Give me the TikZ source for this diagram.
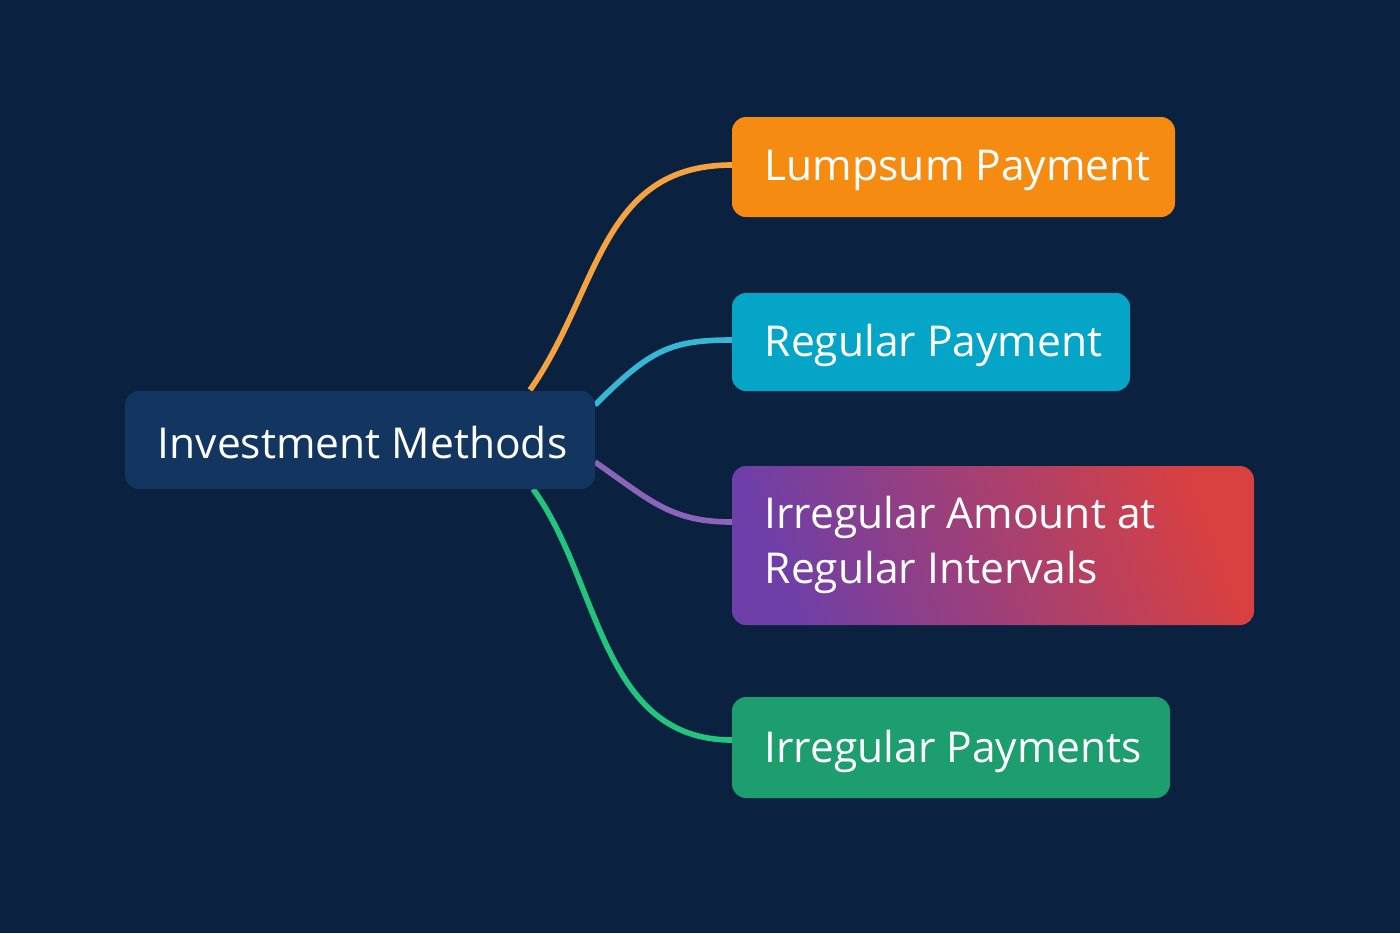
\documentclass[tikz,border=0pt]{standalone}
\usepackage{fontspec}
\setmainfont{Open Sans}
\begin{document}
\begin{tikzpicture}[x=0.01cm,y=-0.01cm,
  box/.style={rounded corners=0.14cm},
  lbl/.style={text=white,font=\fontsize{12.1}{15.6}\selectfont,align=left,anchor=west,inner sep=0},
  con/.style={line width=1.6pt}]
\definecolor{bg}{HTML}{0A2240}
\definecolor{cmain}{HTML}{12365F}
\definecolor{corg}{HTML}{F58B10}
\definecolor{ccy}{HTML}{05A5C8}
\definecolor{cpu}{HTML}{6E3FA8}
\definecolor{cred}{HTML}{D94040}
\definecolor{cgr}{HTML}{1D9E6E}
\definecolor{cgrl}{HTML}{22C47E}
\fill[bg] (0,0) rectangle (1400,933);
\useasboundingbox (0,0) rectangle (1400,933);
% connectors
\coordinate (o1) at (530,390); \coordinate (o2) at (732,165);
\coordinate (c1) at (595,405); \coordinate (c2) at (732,340);
\coordinate (p1) at (595,462); \coordinate (p2) at (732,522);
\coordinate (g1) at (533,489); \coordinate (g2) at (732,740);
\draw[con,color=corg!80!white] (o1) .. controls (600,290) and (600,165) .. (o2);
\draw[con,color=ccy!80!white] (c1) .. controls (650,350) and (670,340) .. (c2);
\draw[con,color=cpu!80!white] (p1) .. controls (650,500) and (670,522) .. (p2);
\draw[con,color=cgrl] (g1) .. controls (600,580) and (600,740) .. (g2);
% boxes
\fill[box,cmain] (125,391) rectangle (595,489);
\node[lbl,text=white] (m) at (157,443) {Investment Methods};
\fill[box,corg] (732,117) rectangle (1175,217);
\node[lbl] (a) at (764,170) {Lumpsum Payment};
\fill[box,ccy] (732,293) rectangle (1130,391);
\node[lbl] (b) at (764,345) {Regular Payment};
\shade[box,shading=axis,left color=cpu,right color=cred,shading angle=110] (732,466) rectangle (1254,625);
\node[lbl] (c) at (764,545) {Irregular Amount at\\Regular Intervals};
\fill[box,cgr] (732,697) rectangle (1170,798);
\node[lbl] (d) at (764,751) {Irregular Payments};
\end{tikzpicture}
\end{document}
